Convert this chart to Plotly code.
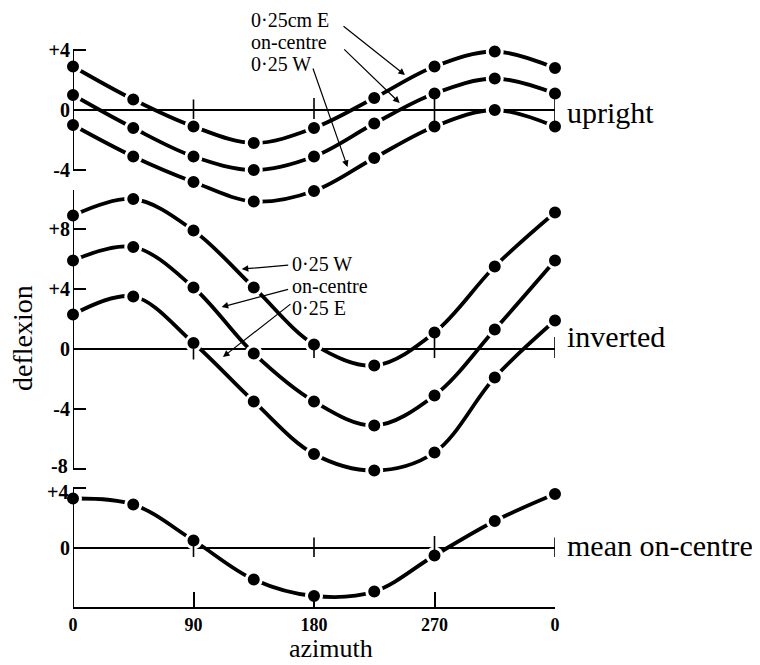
import plotly.graph_objects as go

# ---- data ----
azimuth = [0, 45, 90, 135, 180, 225, 270, 315, 360]
x_tick_vals = [0, 90, 180, 270, 360]
x_tick_text = ["0", "90", "180", "270", "0"]

upright_east = [2.9, 0.7, -1.1, -2.2, -1.2, 0.8, 2.9, 3.9, 2.8]
upright_centre = [1.0, -1.2, -3.1, -4.0, -3.1, -0.9, 1.1, 2.1, 1.1]
upright_west = [-1.0, -3.1, -4.8, -6.1, -5.4, -3.2, -1.1, 0.0, -1.1]

inverted_west = [8.9, 10.0, 7.9, 4.1, 0.3, -1.1, 1.1, 5.5, 9.1]
inverted_centre = [5.9, 6.8, 4.1, -0.3, -3.5, -5.1, -3.1, 1.3, 5.9]
inverted_east = [2.3, 3.5, 0.4, -3.5, -7.0, -8.1, -6.9, -1.9, 1.9]

mean_centre = [3.3, 2.9, 0.5, -2.1, -3.2, -2.9, -0.5, 1.8, 3.6]

upright_ticks = [-4, 0, 4]
upright_tick_text = ["-4", "0", "+4"]
inverted_ticks = [-8, -4, 0, 4, 8]
inverted_tick_text = ["-8", "-4", "0", "+4", "+8"]
mean_ticks = [-4, 0, 4]
mean_tick_text = ["-4", "0", "+4"]

# ---- layout geometry (page pixels; the page body adds an 8 px offset) ----
OFF = 8
W, H = 760 - OFF, 665 - OFF
LEFT, RIGHT, BOTTOM, TOP = 73, 555, 607, 8   # plot area in page pixels
ML = LEFT - OFF
MR = W - (RIGHT - OFF)
MT = TOP - OFF
MB = H - (BOTTOM - OFF)
PW = RIGHT - LEFT
PH = BOTTOM - TOP


def fx(p):
    return (p - LEFT) / PW


def fy(p):
    return (BOTTOM - p) / PH


SERIF = "Liberation Serif, Times New Roman, serif"
tickfont = dict(family=SERIF, size=20, color="black", weight="bold")
xtickfont = dict(family=SERIF, size=18, color="black", weight="bold")

fig = go.Figure()


def add_series(yvals, xa, ya):
    fig.add_trace(go.Scatter(
        x=azimuth, y=yvals, xaxis=xa, yaxis=ya,
        mode="lines+markers",
        line=dict(color="black", width=3.8, shape="spline", smoothing=1.0),
        marker=dict(color="black", size=15, line=dict(color="white", width=3)),
        cliponaxis=False, showlegend=False, hoverinfo="skip",
    ))


for s in (upright_east, upright_centre, upright_west):
    add_series(s, "x", "y")
for s in (inverted_west, inverted_centre, inverted_east):
    add_series(s, "x2", "y2")
add_series(mean_centre, "x3", "y3")

# panel geometry in page pixels: (top px, bottom px, zero px)
panels = {
    "y": (30, 210, 110),
    "y2": (190, 475, 349),
    "y3": (480, BOTTOM, 548),
}
scale = 15.0  # px per unit

# labels at the crowded junction between panels are set as free text
junction_labels = {("y2", -8): 466, ("y3", 4): 492}


def yaxis_cfg(key, tickvals, ticktext, anchor):
    top, bot, zero = panels[key]
    shown = [("" if (key, v) in junction_labels else t)
             for v, t in zip(tickvals, ticktext)]
    return dict(
        domain=[fy(bot), fy(top)],
        range=[-(bot - zero) / scale, (zero - top) / scale],
        anchor=anchor, tickvals=tickvals, ticktext=shown,
        ticks="inside", ticklen=13, tickwidth=2, tickcolor="black",
        tickfont=tickfont, showgrid=False, showline=False,
        zeroline=True, zerolinecolor="black", zerolinewidth=2,
        fixedrange=True, ticklabelstandoff=2,
    )


hidden_x = dict(domain=[0, 1], range=[0, 360], showgrid=False, zeroline=False,
                showline=False, showticklabels=False, ticks="")

fig.update_layout(
    width=W, height=H,
    margin=dict(l=ML, r=MR, t=MT, b=MB),
    paper_bgcolor="white", plot_bgcolor="rgba(0,0,0,0)",
    xaxis=dict(hidden_x, anchor="y"),
    xaxis2=dict(hidden_x, anchor="y2"),
    xaxis3=dict(
        domain=[0, 1], range=[0, 360], anchor="y3",
        tickvals=x_tick_vals, ticktext=x_tick_text,
        ticks="inside", ticklen=15, tickwidth=2, tickcolor="black",
        tickfont=xtickfont, showgrid=False, zeroline=False,
        showline=True, linecolor="black", linewidth=2, ticklabelstandoff=0,
    ),
    yaxis=yaxis_cfg("y", upright_ticks, upright_tick_text, "x"),
    yaxis2=yaxis_cfg("y2", inverted_ticks, inverted_tick_text, "x2"),
    yaxis3=yaxis_cfg("y3", mean_ticks, mean_tick_text, "x3"),
)

shapes = []
# vertical axis segments
axis_spans = [("x", "y", -4, 4), ("x2", "y2", -8, 10.6), ("x3", "y3", -4, 4)]
for xa, ya, y0, y1 in axis_spans:
    shapes.append(dict(type="line", xref=xa, yref=ya, x0=0, x1=0, y0=y0, y1=y1,
                       line=dict(color="black", width=2)))
# small tick marks on the zero lines
zero_ticks = [
    ("x", "y", 90, -0.6, 0.7), ("x", "y", 180, -0.6, 0.8),
    ("x", "y", 270, -1.1, 1.1), ("x", "y", 360, -1.1, 1.1),
    ("x2", "y2", 90, -0.7, 0.0), ("x2", "y2", 180, -0.6, 0.0),
    ("x2", "y2", 270, -0.6, 1.1), ("x2", "y2", 360, -0.6, 0.8),
    ("x3", "y3", 90, -0.6, 0.55), ("x3", "y3", 180, -0.6, 0.7),
    ("x3", "y3", 270, -0.7, 0.8), ("x3", "y3", 360, -0.6, 0.7),
]
for xa, ya, xv, y0, y1 in zero_ticks:
    shapes.append(dict(type="line", xref=xa, yref=ya, x0=xv, x1=xv, y0=y0, y1=y1,
                       line=dict(color="black", width=1.6)))
fig.update_layout(shapes=shapes)

ann = []


def text(px, py, s, size=20, xanchor="left", yanchor="middle", font=None, **kw):
    ann.append(dict(xref="paper", yref="paper", x=fx(px), y=fy(py), text=s,
                    showarrow=False, xanchor=xanchor, yanchor=yanchor,
                    font=font or dict(family=SERIF, size=size, color="black"),
                    **kw))


# junction tick labels
for (key, v), py in junction_labels.items():
    vals = inverted_ticks if key == "y2" else mean_ticks
    txts = inverted_tick_text if key == "y2" else mean_tick_text
    text(70, py, txts[vals.index(v)], xanchor="right", font=tickfont)

# series labels (tight stacked lines, as in the original)
for py, s in ((20, "0·25cm E"), (42, "on-centre"), (64, "0·25 W")):
    text(249, py, s)
for py, s in ((264, "0·25 W"), (286, "on-centre"), (308, "0·25 E")):
    text(290, py, s)
# panel labels
text(565, 113, "upright", size=30)
text(565, 336, "inverted", size=30)
text(565, 545, "mean on-centre", size=30)
# axis titles
text(331, 665, "azimuth", size=26, xanchor="center", yanchor="bottom")
text(22, 338, "deflexion", size=28, xanchor="center", textangle=-90)


def arrow(xa, ya, x, y, ax, ay):
    ann.append(dict(xref=xa, yref=ya, x=x, y=y, ax=ax, ay=ay, axref="pixel",
                    ayref="pixel", text="", showarrow=True, arrowhead=2,
                    arrowsize=1.1, arrowwidth=1.2, arrowcolor="black"))


arrow("x", "y", 248, 2.33, -63, -50)
arrow("x", "y", 244, 0.47, -57, -55)
arrow("x", "y", 205, -3.8, -35, -100)
arrow("x2", "y2", 126, 5.33, 48, -4)
arrow("x2", "y2", 111, 2.8, 68, -18)
arrow("x2", "y2", 112, -0.53, 69, -54)

fig.update_layout(annotations=ann)

fig.write_html("out.html")
